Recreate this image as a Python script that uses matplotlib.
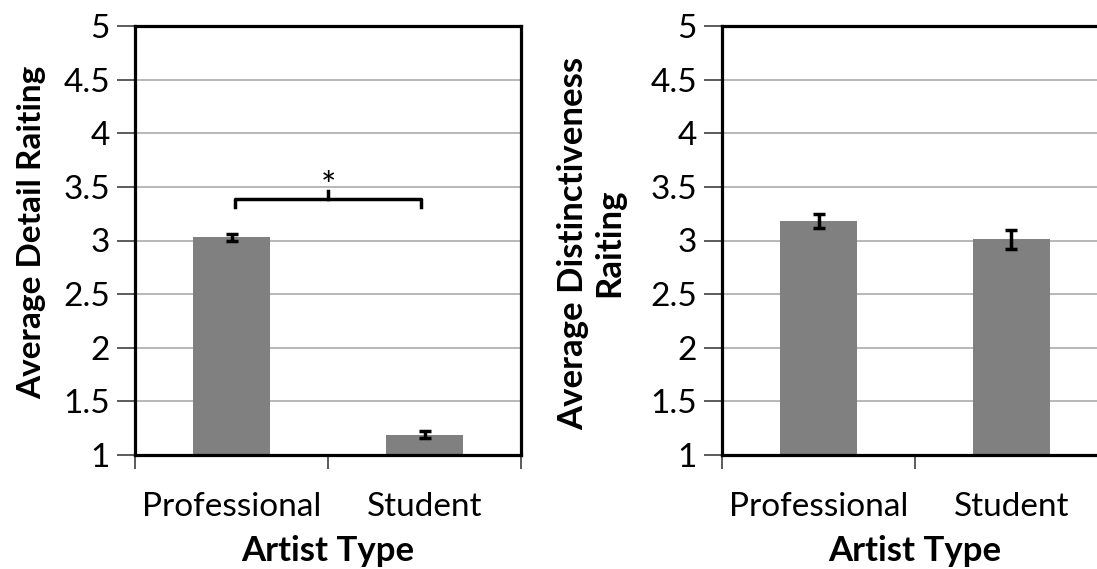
import matplotlib.pyplot as plt
from matplotlib.ticker import FixedLocator, NullFormatter

plt.rcParams['font.family'] = ['Lato', 'DejaVu Sans']

# 数据
categories = ['Professional', 'Student']
detail_mean = [3.03, 1.19]
detail_err = [0.03, 0.035]
distinct_mean = [3.18, 3.01]
distinct_err = [0.065, 0.09]
yticks = [1, 1.5, 2, 2.5, 3, 3.5, 4, 4.5, 5]
ytick_labels = ['1', '1.5', '2', '2.5', '3', '3.5', '4', '4.5', '5']
bracket_y = 3.39      # 显著性括号高度
star_y = 3.40         # 星号基线

bar_color = '#808080'
W, H = 1097, 569
fig = plt.figure(figsize=(W / 100, H / 100), dpi=100)


def draw_panel(ax, means, errs, ylabel, ylab_xy, ylab_size):
    x = list(range(len(categories)))
    ax.yaxis.grid(True, color='#b8b8b8', linewidth=1.4, zorder=0)
    ax.set_axisbelow(True)
    ax.bar(x, means, width=0.4, color=bar_color, zorder=2)
    ax.errorbar(x, means, yerr=errs, fmt='none', ecolor='black',
                elinewidth=2.5, capsize=4, capthick=2.5, zorder=3)
    ax.set_xlim(-0.5, len(categories) - 0.5)
    ax.set_ylim(1, 5)
    ax.set_yticks(yticks)
    ax.set_yticklabels(ytick_labels)
    # x轴: 主刻度在分界处, 标签放在次刻度
    ax.xaxis.set_major_locator(FixedLocator([-0.5, 0.5, 1.5]))
    ax.xaxis.set_major_formatter(NullFormatter())
    ax.xaxis.set_minor_locator(FixedLocator(x))
    ax.set_xticklabels(categories, minor=True)
    ax.tick_params(axis='x', which='major', direction='out', length=10,
                   width=1.2, color='#404040')
    ax.tick_params(axis='x', which='minor', length=0, pad=27, labelsize=24)
    ax.tick_params(axis='y', direction='out', length=13, width=1.2,
                   color='#404040', labelsize=24, pad=5)
    for s in ax.spines.values():
        s.set_linewidth(2.3)
        s.set_color('black')
    ax.set_xlabel('Artist Type', fontsize=25, fontweight='bold', labelpad=9)
    ax.set_ylabel(ylabel, fontsize=ylab_size, fontweight='bold', linespacing=1.15)
    ax.yaxis.set_label_coords(*ylab_xy)
    ax.yaxis.label.set_va('center')


ax1 = fig.add_axes([135 / W, 1 - 455 / H, 386 / W, 429 / H])
draw_panel(ax1, detail_mean, detail_err, 'Average Detail Raiting',
           ((32 - 135) / 386, (455 - 232) / 429), 24)

# 显著性括号
x0, x1 = 0.02, 0.98
ax1.plot([x0, x0, x1, x1], [bracket_y - 0.08, bracket_y, bracket_y, bracket_y - 0.08],
         color='black', linewidth=2.5, zorder=4, solid_joinstyle='round')
ax1.plot([0.5, 0.5], [bracket_y, bracket_y + 0.07], color='black', linewidth=2.5, zorder=4)
ax1.text(0.5, star_y, '*', ha='center', va='baseline', fontsize=26)

ax2 = fig.add_axes([722 / W, 1 - 455 / H, 386 / W, 429 / H])
draw_panel(ax2, distinct_mean, distinct_err, 'Average Distinctiveness\nRaiting',
           ((591 - 722) / 386, (455 - 243) / 429), 25)

fig.savefig('out.png', dpi=100)
